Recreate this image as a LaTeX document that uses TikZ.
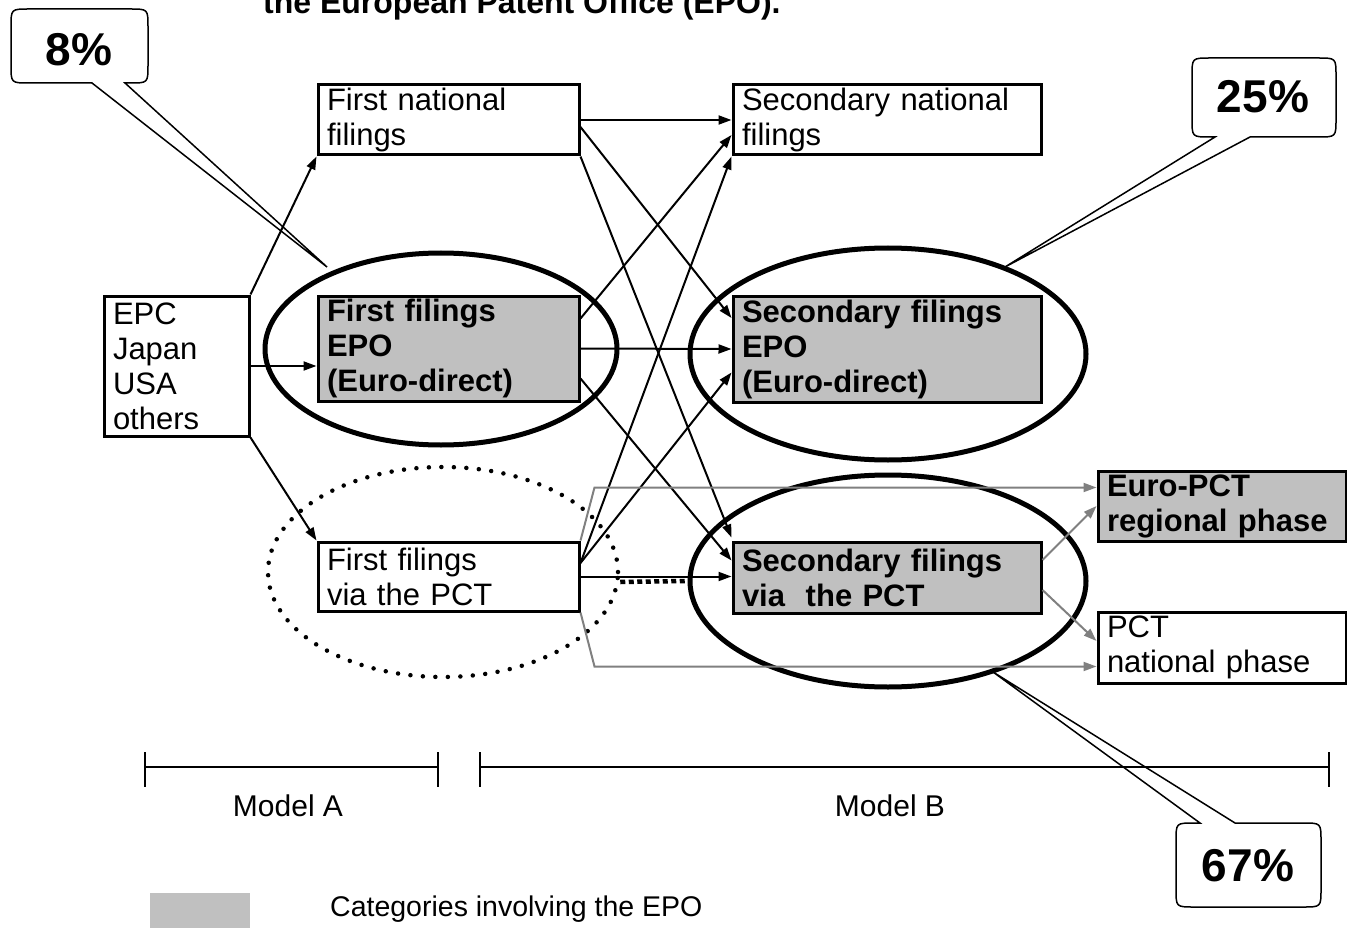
\documentclass[tikz,border=0pt]{standalone}
\usepackage{fontspec}
\setmainfont{Liberation Sans}
\usetikzlibrary{arrows.meta,calc,shapes.geometric}
\definecolor{epogray}{RGB}{192,192,192}
\definecolor{arrgray}{RGB}{128,128,128}
\begin{document}
\begin{tikzpicture}[x=1pt,y=-1pt,
  box/.style={draw=black,line width=3pt,fill=white,inner xsep=9pt,inner ysep=0pt,align=left,font=\fontsize{31}{35}\selectfont},
  epobox/.style={box,fill=epogray,font=\fontsize{31}{35}\selectfont\bfseries},
  arr/.style={line width=2pt,-{Triangle[length=13pt,width=9pt]}},
  garr/.style={draw=arrgray,line width=2pt,-{Triangle[length=13pt,width=9pt,fill=arrgray]}},
  ring/.style={draw,ellipse,line width=5pt,inner sep=0pt},
  dotring/.style={draw,ellipse,line width=4.5pt,inner sep=0pt,dash pattern=on 0pt off 12.5pt,line cap=round},
  co/.style={line width=1.5pt,line join=miter},
  pct/.style={font=\fontsize{46}{50}\selectfont\bfseries,inner sep=0pt},
  bar/.style={line width=2pt},
  lbl/.style={font=\fontsize{30}{34}\selectfont,inner sep=0pt}
]
\path[use as bounding box] (0,0) rectangle (1347,928);
\clip (0,0) rectangle (1347,928);

% title (cut off at top, as in the original)
\node[anchor=base west,inner sep=0pt,font=\fontsize{32}{36}\selectfont\bfseries] (title) at (263,14) {the European Patent Office (EPO).};

% callouts
\node[pct] (p8) at (79,50) {8\%};
\node[pct] (p25) at (1263,97) {25\%};
\node[pct] (p67) at (1248,866) {67\%};
\draw[co] (125,83) -- (130,83) .. controls (148,83) .. (148,65) -- (148,27) .. controls (148,9) .. (130,9) -- (29,9) .. controls (11,9) .. (11,27) -- (11,65) .. controls (11,83) .. (29,83) -- (92,83) -- (327,267) -- cycle;
\draw[co] (1250,137) -- (1318,137) .. controls (1336,137) .. (1336,119) -- (1336,76) .. controls (1336,58) .. (1318,58) -- (1210,58) .. controls (1192,58) .. (1192,76) -- (1192,119) .. controls (1192,137) .. (1210,137) -- (1215,137) -- (1005,267) -- cycle;
\draw[co] (1235,823) -- (1303,823) .. controls (1321,823) .. (1321,841) -- (1321,889) .. controls (1321,907) .. (1303,907) -- (1194,907) .. controls (1176,907) .. (1176,889) -- (1176,841) .. controls (1176,823) .. (1194,823) -- (1200,823) -- (993,672) -- cycle;

% ellipses
\node[ring,minimum width=352,minimum height=192] (E1) at (441,349) {};
\node[ring,minimum width=396,minimum height=212] (E2) at (888,354) {};
\node[ring,minimum width=396,minimum height=212] (E3) at (888,581) {};
\node[dotring,minimum width=350,minimum height=210] (E4) at (443,572) {};
\draw[line width=4.5pt,dash pattern=on 5pt off 3.5pt] ($(E4.east)+(0,10)$) -- (E3.west);

% boxes
\node[box,text width=127,minimum height=140] (src) at (176.5,366) {EPC\\Japan\\USA\\others};
\node[box,text width=243,minimum height=70] (fn) at (448.5,120) {First national\\filings};
\node[epobox,text width=243,minimum height=105] (ffe) at (448.5,348.5) {First filings\\EPO\\(Euro-direct)};
\node[box,text width=243,minimum height=69] (fp) at (448.5,576.5) {First filings\\via the PCT};
\node[box,text width=290,minimum height=70] (sn) at (887,120) {Secondary national\\filings};
\node[epobox,text width=290,minimum height=106] (sfe) at (887,349) {Secondary filings\\EPO\\(Euro-direct)};
\node[epobox,text width=290,minimum height=71] (sfp) at (887,577.5) {Secondary filings\\via\ \ the PCT};
\node[epobox,text width=230,minimum height=70] (epr) at (1222,506) {Euro-PCT\\regional phase};
\node[box,text width=230,minimum height=71] (pnp) at (1222,647.5) {PCT\\national phase};

% black connectors
\draw[arr] (src.north east) -- (fn.south west);
\draw[arr] (src.east) -- (src.east -| ffe.west);
\draw[arr] (src.south east) -- (fp.north west);
\draw[arr] (fn.east) -- (sn.west);
\draw[arr] ($(fn.east)+(0,7)$) -- ($(sfe.west)+(0,-31)$);
\draw[arr] (fn.south east) -- ($(sfp.north west)+(0,-3)$);
\draw[arr] (ffe.east) -- (sfe.west);
\draw[arr] ($(ffe.east)+(0,-30)$) -- ($(sn.west)+(0,15)$);
\draw[arr] ($(ffe.east)+(0,30)$) -- ($(sfp.west)+(0,-17)$);
\draw[arr] ($(fp.east)+(0,-13.5)$) -- (sn.south west);
\draw[arr] ($(fp.east)+(0,-13.5)$) -- ($(sfe.west)+(0,23.5)$);
\draw[arr] (fp.east) -- (fp.east -| sfp.west);

% grey connectors
\draw[garr] (fp.north east) -- ++(14,-53) coordinate (g1) -- (g1 -| epr.west);
\draw[garr] (fp.south east) -- ++(14,54) coordinate (g2) -- (g2 -| pnp.west);
\draw[garr] ($(sfp.east)+(0,-17.5)$) -- (epr.west);
\draw[garr] ($(sfp.east)+(0,12.5)$) -- ($(pnp.west)+(0,-6.5)$);

% model bars
\coordinate (a1) at (145,767);
\coordinate (a2) at (438,767);
\coordinate (b1) at (480,767);
\coordinate (b2) at (1329,767);
\draw[bar] (a1) -- (a2);
\draw[bar] (b1) -- (b2);
\foreach \c in {a1,a2,b1,b2} \draw[bar] ($(\c)+(0,-15)$) -- ($(\c)+(0,20)$);
\node[lbl] (ma) at (288,806) {Model A};
\node[lbl] (mb) at (890,806) {Model B};

% legend
\fill[epogray] (150,893) rectangle (250,928);
\node[anchor=west,inner sep=0pt,font=\fontsize{28.5}{32}\selectfont] (leg) at (330,909) {Categories involving the EPO};
\end{tikzpicture}
\end{document}
